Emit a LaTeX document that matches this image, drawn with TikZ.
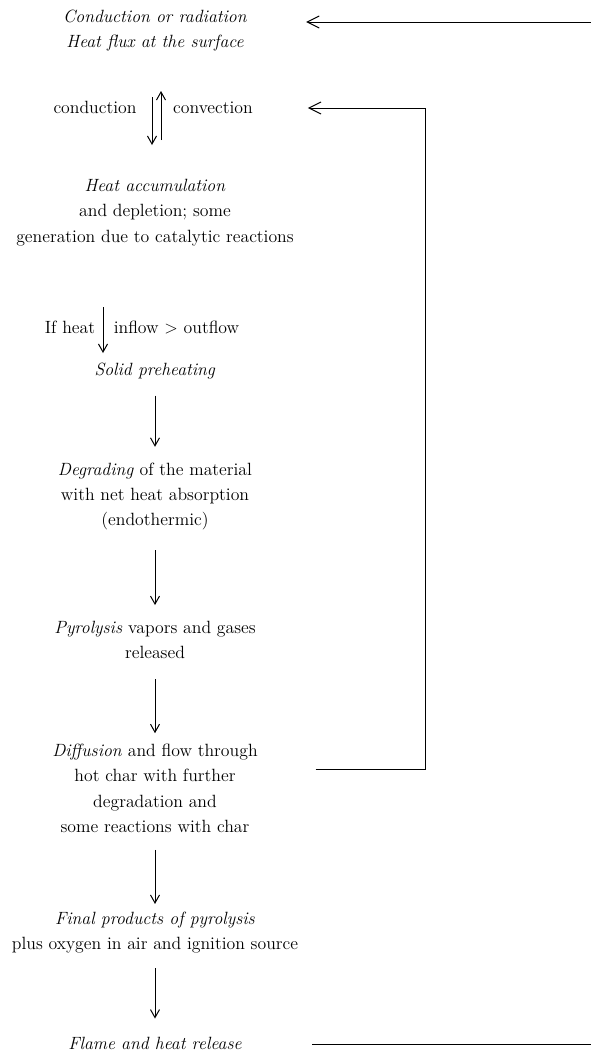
\documentclass[tikz,border=0pt]{standalone}
\usetikzlibrary{arrows.meta}

\begin{document}
\begin{tikzpicture}[x=0.75pt,y=-0.75pt,font=\fontsize{13.3}{19}\selectfont,every node/.style={inner sep=0pt,execute at begin node=\strut,execute at end node=\strut},every text node part/.style={align=center},every path/.style={line width=0.75pt},flow/.style={-{Straight Barb[length=6pt,width=6.75pt]}},feedback/.style={-{Straight Barb[length=9pt,width=9pt]}}]
	\useasboundingbox (0,0) rectangle (591,1054);

	\node (surf) at (155,32.5) {\textit{Conduction or radiation}\\\textit{Heat flux at the surface}};
	\node (cond) at (95,108) {conduction};
	\node (conv) at (213,108) {convection};
	\node (accum) at (155,214.5) {\textit{Heat accumulation}\\and depletion; some\\generation due to catalytic reactions};
	\node (ifheat) at (70,328) {If heat};
	\node (inflow) at (176.5,328) {inflow > outflow};
	\node (preheat) at (155,370) {\textit{Solid preheating}};
	\node (degrade) at (155,498) {\textit{Degrading} of the material\\with net heat absorption\\(endothermic)};
	\node (pyro) at (155,643.5) {\textit{Pyrolysis} vapors and gases\\released};
	\node (diff) at (155,792) {\textit{Diffusion} and flow through\\hot char with further\\degradation and\\some reactions with char};
	\node (final) at (155,934.5) {\textit{Final products of pyrolysis}\\plus oxygen in air and ignition source};
	\node (flame) at (155,1044) {\textit{Flame and heat release}};

	\coordinate (cdown) at (152,97);
	\coordinate (cup) at (161,140);
	\coordinate (hf) at (103,307);
	\coordinate (edgeT) at (591,22);
	\coordinate (edgeB) at (591,1044);
	\coordinate (fbrow) at (0,769);
	\coordinate (fbcorner) at (425,108);

	\draw[flow] (cdown) -- ++(0,48);
	\draw[flow] (cup) -- ++(0,-49);
	\draw[flow] (hf) -- ++(0,46);

	\draw[flow,shorten <=9.3pt,shorten >=11.5pt] (preheat) -- (degrade);
	\draw[flow,shorten <=12.3pt,shorten >=11.5pt] (degrade) -- (pyro);
	\draw[flow,shorten <=9.3pt,shorten >=7.7pt] (pyro) -- (diff);
	\draw[flow,shorten <=7pt,shorten >=5.5pt] (diff) -- (final);
	\draw[flow,shorten <=7.8pt,shorten >=9.2pt] (final) -- (flame);

	\draw[feedback,shorten >=44pt] (edgeT) -- (edgeT -| surf.east);
	\draw[feedback,shorten <=43pt,shorten >=41pt] (diff.east |- fbrow) -| (fbcorner) -- (conv.east);
	\draw[shorten >=52pt] (edgeB) -- (edgeB -| flame.east);
\end{tikzpicture}
\end{document}
